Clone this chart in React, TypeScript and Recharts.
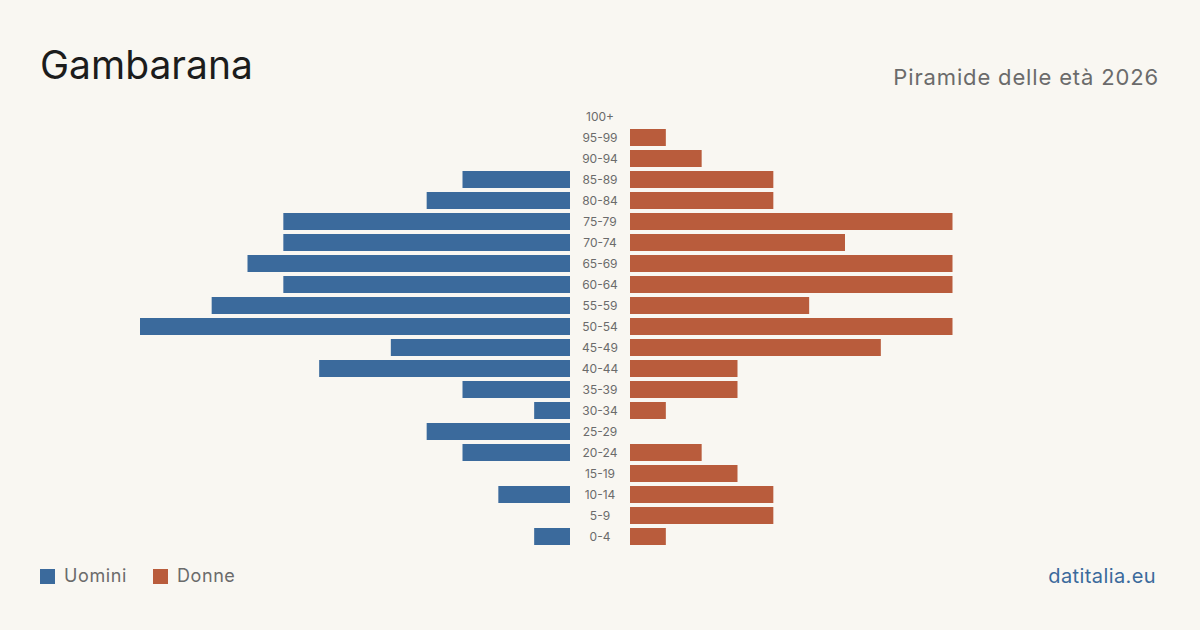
import { BarChart, Bar, XAxis, YAxis } from "recharts";

const ageGroups = [
  "100+", "95-99", "90-94", "85-89", "80-84", "75-79", "70-74", "65-69", "60-64", "55-59",
  "50-54", "45-49", "40-44", "35-39", "30-34", "25-29", "20-24", "15-19", "10-14", "5-9", "0-4",
];
const maleCounts = [0, 0, 0, 3, 4, 8, 8, 9, 8, 10, 12, 5, 7, 3, 1, 4, 3, 0, 2, 0, 1];
const femaleCounts = [0, 1, 2, 4, 4, 9, 6, 9, 9, 5, 9, 7, 3, 3, 1, 0, 2, 3, 4, 4, 1];

const MALE = "#3b6a9c";
const FEMALE = "#b95c3c";
const FONT = "Inter, 'Noto Sans', sans-serif";

const rows = ageGroups.map((age, i) => ({ age, m: maleCounts[i], f: femaleCounts[i] }));
const maxVal = Math.max(...maleCounts, ...femaleCounts);

const AgeTick = ({ y, payload }: any) => (
  <text x={460} y={y} dy={4} textAnchor="middle" fontSize={12} fill="#6b6b6b" fontFamily={FONT}>
    {payload.value}
  </text>
);

export default function App() {
  return (
    <div
      style={{
        position: "absolute",
        left: 0,
        top: 0,
        width: 1200,
        height: 630,
        background: "#f9f7f2",
        fontFamily: FONT,
        overflow: "hidden",
      }}
    >
      <div style={{ position: "absolute", left: 40, top: 40, fontSize: 39, color: "#1c1c1c", lineHeight: "50px" }}>
        Gambarana
      </div>
      <div style={{ position: "absolute", right: 41, top: 62, fontSize: 22, letterSpacing: 0.85, color: "#6b6b6b", lineHeight: "30px" }}>
        Piramide delle età 2026
      </div>

      {/* men, growing leftwards, with the age labels in the centre gutter */}
      <div style={{ position: "absolute", left: 140, top: 106 }}>
        <BarChart width={490} height={441} data={rows} layout="vertical" margin={{ top: 0, right: 0, bottom: 0, left: 0 }}>
          <XAxis type="number" hide reversed domain={[0, maxVal]} />
          <YAxis
            type="category"
            dataKey="age"
            orientation="right"
            width={60}
            axisLine={false}
            tickLine={false}
            interval={0}
            tick={<AgeTick />}
          />
          <Bar dataKey="m" fill={MALE} barSize={17} isAnimationActive={false} />
        </BarChart>
      </div>

      {/* women */}
      <div style={{ position: "absolute", left: 630, top: 106 }}>
        <BarChart width={430} height={441} data={rows} layout="vertical" margin={{ top: 0, right: 0, bottom: 0, left: 0 }}>
          <XAxis type="number" hide domain={[0, maxVal]} />
          <YAxis type="category" dataKey="age" hide />
          <Bar dataKey="f" fill={FEMALE} barSize={17} isAnimationActive={false} />
        </BarChart>
      </div>

      <div style={{ position: "absolute", left: 40, top: 564, display: "flex", alignItems: "center", fontSize: 18, letterSpacing: 0.6, color: "#6b6b6b", lineHeight: "24px" }}>
        <span style={{ width: 15, height: 15, background: MALE, marginRight: 9 }} />
        <span>Uomini</span>
        <span style={{ width: 15, height: 15, background: FEMALE, marginLeft: 26, marginRight: 9 }} />
        <span>Donne</span>
      </div>
      <div style={{ position: "absolute", right: 44, top: 563, fontSize: 20, letterSpacing: 0.4, color: "#3b6a9c", lineHeight: "26px" }}>
        datitalia.eu
      </div>
    </div>
  );
}
